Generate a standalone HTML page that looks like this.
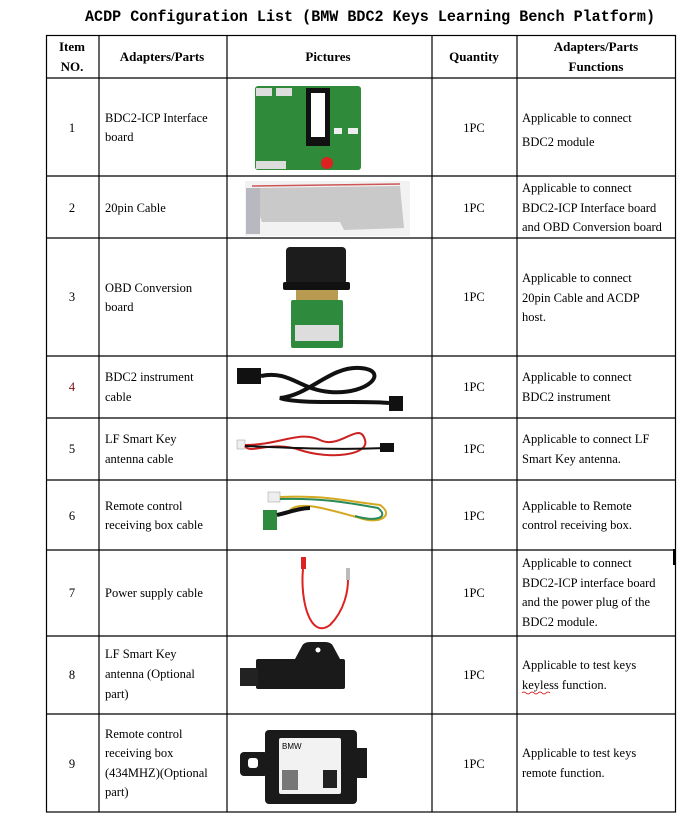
<!DOCTYPE html>
<html><head><meta charset="utf-8"><style>
html,body{margin:0;padding:0;background:#fff;}
svg{display:block;}
text{font-family:"Liberation Serif","Noto Serif CJK SC",serif;font-size:12.5px;fill:#000;}
.h{font-weight:bold;font-size:13px;}
.t{font-family:"Liberation Mono","Noto Serif CJK SC",monospace;font-weight:bold;font-size:16px;}
</style></head><body>
<svg width="695" height="839" viewBox="0 0 695 839">
<text class="t" x="85" y="21" textLength="570" lengthAdjust="spacingAndGlyphs">ACDP Configuration List (BMW BDC2 Keys Learning Bench Platform)</text>
<g stroke="#000" stroke-width="1.2" fill="none">
<rect x="46.5" y="35.5" width="629" height="776.5"/>
<line x1="46" y1="78" x2="676" y2="78"/><line x1="46" y1="176" x2="676" y2="176"/>
<line x1="46" y1="238" x2="676" y2="238"/><line x1="46" y1="356" x2="676" y2="356"/>
<line x1="46" y1="418" x2="676" y2="418"/><line x1="46" y1="480" x2="676" y2="480"/>
<line x1="46" y1="550" x2="676" y2="550"/><line x1="46" y1="636" x2="676" y2="636"/>
<line x1="46" y1="714" x2="676" y2="714"/>
<line x1="99" y1="35" x2="99" y2="812"/><line x1="227" y1="35" x2="227" y2="812"/>
<line x1="432" y1="35" x2="432" y2="812"/><line x1="517" y1="35" x2="517" y2="812"/>
</g>
<rect x="673" y="549" width="3" height="16" fill="#000"/>
<g text-anchor="middle">
<text class="h" x="72" y="51">Item</text><text class="h" x="72" y="71">NO.</text>
<text class="h" x="162" y="61">Adapters/Parts</text>
<text class="h" x="328" y="61">Pictures</text>
<text class="h" x="474" y="61">Quantity</text>
<text class="h" x="596" y="51">Adapters/Parts</text><text class="h" x="596" y="71">Functions</text>
<text x="72" y="132">1</text><text x="72" y="212">2</text><text x="72" y="301">3</text>
<text x="72" y="391" style="fill:#7a1010">4</text><text x="72" y="453">5</text><text x="72" y="520">6</text>
<text x="72" y="597">7</text><text x="72" y="679">8</text><text x="72" y="768">9</text>
<text x="474" y="132">1PC</text><text x="474" y="212">1PC</text><text x="474" y="301">1PC</text>
<text x="474" y="391">1PC</text><text x="474" y="453">1PC</text><text x="474" y="520">1PC</text>
<text x="474" y="597">1PC</text><text x="474" y="679">1PC</text><text x="474" y="768">1PC</text>
</g>
<g>
<text x="105" y="122">BDC2-ICP Interface</text><text x="105" y="141">board</text>
<text x="105" y="212">20pin Cable</text>
<text x="105" y="292">OBD Conversion</text><text x="105" y="311">board</text>
<text x="105" y="381">BDC2 instrument</text><text x="105" y="401">cable</text>
<text x="105" y="443">LF Smart Key</text><text x="105" y="463">antenna cable</text>
<text x="105" y="510">Remote control</text><text x="105" y="529">receiving box cable</text>
<text x="105" y="597">Power supply cable</text>
<text x="105" y="658">LF Smart Key</text><text x="105" y="678">antenna (Optional</text><text x="105" y="698">part)</text>
<text x="105" y="738">Remote control</text><text x="105" y="757">receiving box</text><text x="105" y="777"> (434MHZ)(Optional</text><text x="105" y="796">part)</text>

<text x="522" y="122">Applicable to connect</text><text x="522" y="146">BDC2 module</text>
<text x="522" y="192">Applicable to connect</text><text x="522" y="212">BDC2-ICP Interface board</text><text x="522" y="231">and OBD Conversion board</text>
<text x="522" y="282">Applicable to connect</text><text x="522" y="302">20pin Cable and ACDP</text><text x="522" y="321">host.</text>
<text x="522" y="381">Applicable to connect</text><text x="522" y="401">BDC2 instrument</text>
<text x="522" y="443">Applicable to connect LF</text><text x="522" y="463">Smart Key antenna.</text>
<text x="522" y="510">Applicable to Remote</text><text x="522" y="529">control receiving box.</text>
<text x="522" y="567">Applicable to connect</text><text x="522" y="587">BDC2-ICP interface board</text><text x="522" y="606">and the power plug of the</text><text x="522" y="626">BDC2 module.</text>
<text x="522" y="669">Applicable to test keys</text><text x="522" y="689">keyless function.</text>
<text x="522" y="757">Applicable to test keys</text><text x="522" y="777">remote function.</text>
</g>
<path d="M522 693 q2 -2 4 0 t4 0 t4 0 t4 0 t4 0 t4 0 t4 0" stroke="#c00" fill="none" stroke-width="0.8"/>
<rect x="255" y="86" width="106" height="84" rx="3" fill="#2f8a3a"/>
<rect x="306" y="88" width="24" height="58" fill="#111"/><rect x="311" y="93" width="14" height="44" fill="#fff"/>
<rect x="256" y="88" width="16" height="8" fill="#ddd"/><rect x="276" y="88" width="16" height="8" fill="#ddd"/>
<rect x="256" y="161" width="30" height="8" fill="#ddd"/><rect x="334" y="128" width="8" height="6" fill="#eee"/><rect x="348" y="128" width="10" height="6" fill="#eee"/>
<circle cx="327" cy="163" r="6" fill="#d22"/>
<rect x="245" y="181" width="165" height="55" fill="#f2f2f2"/>
<path d="M250 188 L400 186 L404 228 L344 230 L340 222 L262 222 Z" fill="#c9c9c9"/>
<line x1="252" y1="186" x2="400" y2="184" stroke="#c55" stroke-width="1.5"/>
<rect x="246" y="188" width="14" height="46" fill="#b8b8c0"/>
<rect x="286" y="247" width="60" height="38" rx="4" fill="#1c1c1c"/>
<rect x="283" y="282" width="67" height="8" rx="2" fill="#111"/>
<rect x="296" y="290" width="42" height="12" fill="#b89a50"/>
<rect x="291" y="300" width="52" height="48" rx="2" fill="#2e8a3c"/>
<rect x="295" y="325" width="44" height="16" fill="#ddd"/>
<rect x="237" y="368" width="24" height="16" fill="#111"/><rect x="389" y="396" width="14" height="15" fill="#111"/>
<path d="M261 376 C290 370 300 390 330 392 C370 395 390 370 360 368 C330 366 310 395 280 398 C300 405 360 400 389 403" stroke="#111" stroke-width="4" fill="none"/>
<rect x="237" y="440" width="8" height="9" fill="#eee" stroke="#999" stroke-width="0.5"/>
<path d="M245 445 C280 445 300 430 320 440 C340 450 360 420 365 440 C370 455 330 460 300 450 C270 440 250 455 245 446" stroke="#c22" stroke-width="2" fill="none"/>
<path d="M245 446 C290 448 340 450 385 448" stroke="#111" stroke-width="2" fill="none"/>
<rect x="380" y="443" width="14" height="9" fill="#111"/>
<rect x="268" y="492" width="12" height="10" fill="#eee" stroke="#999" stroke-width="0.5"/>
<rect x="263" y="510" width="14" height="20" fill="#2e8a3c"/>
<path d="M280 497 C320 495 340 500 380 505 C395 515 380 525 360 518 C330 510 300 500 290 510" stroke="#d4a820" stroke-width="2" fill="none"/>
<path d="M280 499 C320 498 345 502 378 508 C390 518 375 522 355 516" stroke="#2a8a5a" stroke-width="2" fill="none"/>
<path d="M277 515 C290 512 300 508 310 508" stroke="#111" stroke-width="4" fill="none"/>
<rect x="301" y="557" width="5" height="12" fill="#d22"/><rect x="346" y="568" width="4" height="12" fill="#bbb"/>
<path d="M303 569 C300 600 310 640 330 625 C345 610 348 590 348 580" stroke="#d22" stroke-width="2" fill="none"/>
<path d="M295 659 L302 646 Q304 642 310 642 L325 642 Q331 642 333 646 L340 659 Z" fill="#1a1a1a"/>
<rect x="256" y="659" width="89" height="30" rx="2" fill="#1a1a1a"/>
<rect x="240" y="668" width="18" height="18" fill="#222"/>
<circle cx="318" cy="650" r="2.5" fill="#fff"/>
<rect x="265" y="730" width="92" height="74" rx="4" fill="#1a1a1a"/>
<rect x="240" y="752" width="28" height="24" rx="4" fill="#1a1a1a"/><rect x="248" y="758" width="10" height="10" rx="3" fill="#fff"/>
<rect x="355" y="748" width="12" height="30" fill="#1a1a1a"/>
<rect x="279" y="738" width="62" height="56" rx="2" fill="#f2f2f2"/>
<text x="282" y="749" style="font-family:'Liberation Sans',sans-serif;font-size:8px">BMW</text>
<rect x="282" y="770" width="16" height="20" fill="#777"/><rect x="323" y="770" width="14" height="18" fill="#222"/>
</svg>
</body></html>
